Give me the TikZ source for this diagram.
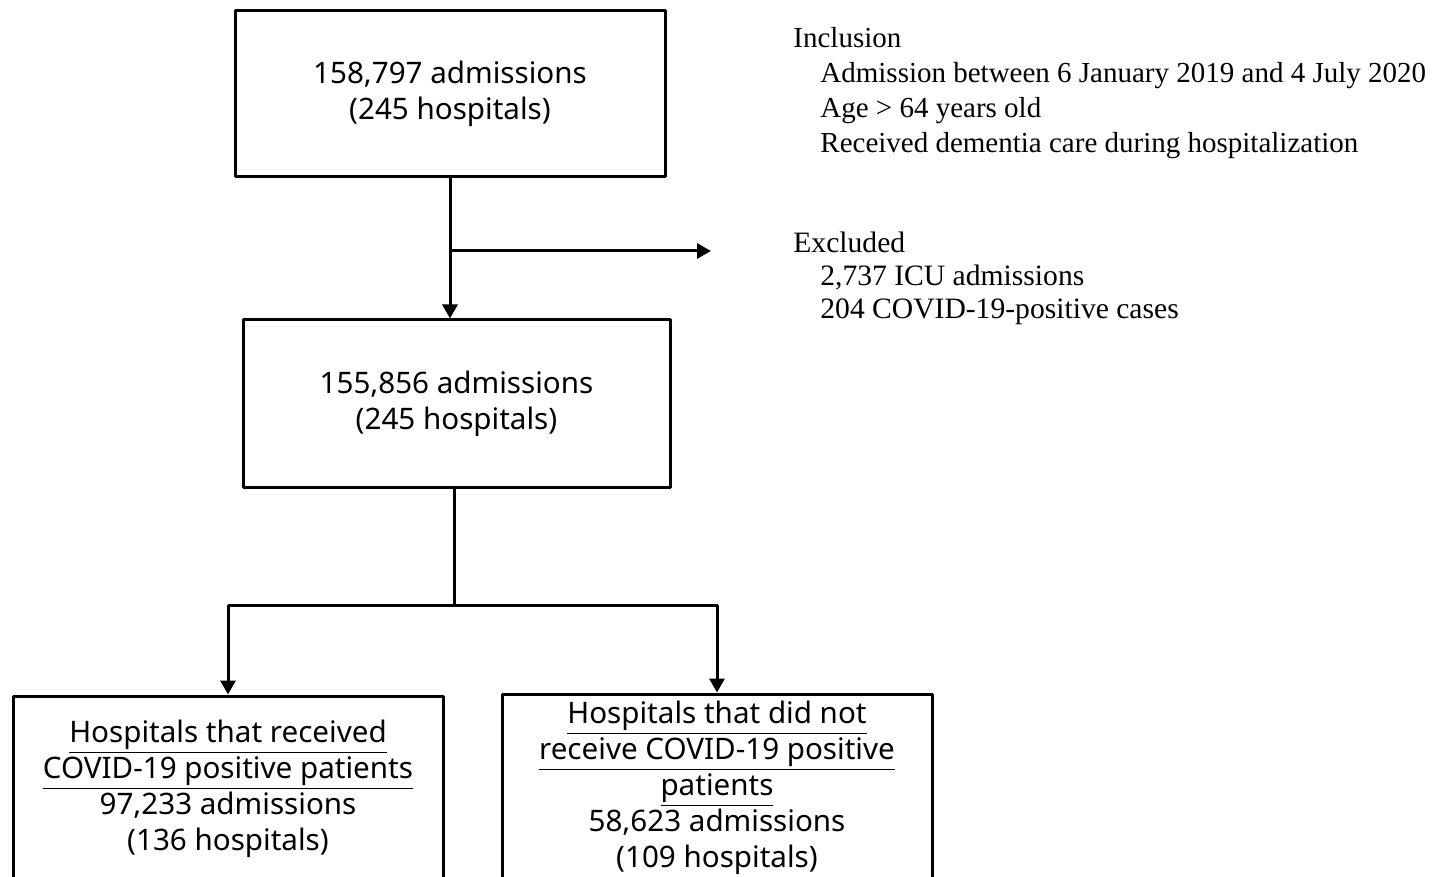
\documentclass[tikz,border=0pt]{standalone}
\usepackage{fontspec}
\setmainfont{Liberation Serif}
\newfontfamily\boxfont{Noto Sans}
\usetikzlibrary{arrows.meta}
\begin{document}
\begin{tikzpicture}[x=0.5pt,y=-0.5pt,line join=round,>={Triangle[length=7pt,width=7.5pt]}]
		\tikzset{box/.style={draw,line width=1.5pt,align=center,inner sep=0pt,font=\boxfont\fontsize{14.8}{18}\selectfont},
			side/.style={align=left,inner sep=0pt,anchor=north west,font=\fontsize{14.5}{17.5}\selectfont}}
		\useasboundingbox (0,0) rectangle (1436,877);
		\node[box,minimum width=215pt,minimum height=83pt] (all) at (450,94) {158,797 admissions\\(245 hospitals)};
		\node[box,minimum width=213.5pt,minimum height=83.5pt] (incl) at (456.5,403.5) {155,856 admissions\\(245 hospitals)};
		\node[box,minimum width=215pt,minimum height=93pt] (covid) at (228,789) {\underline{Hospitals that received}\\\underline{COVID-19 positive patients}\\97,233 admissions\\(136 hospitals)};
		\node[box,minimum width=215pt,minimum height=94pt] (nocovid) at (717,788) {\underline{Hospitals that did not}\\\underline{receive COVID-19 positive}\\\underline{patients}\\58,623 admissions\\(109 hospitals)};
		\node[side] (inclusion) at (793,27) {Inclusion\\\hspace*{13.5pt}Admission between 6 January 2019 and 4 July 2020\\\hspace*{13.5pt}Age > 64 years old\\\hspace*{13.5pt}Received dementia care during hospitalization};
		\node[side,font=\fontsize{14.8}{16.5}\selectfont] (excluded) at (793,232) {Excluded\\\hspace*{13.5pt}2,737 ICU admissions\\\hspace*{13.5pt}204 COVID-19-positive cases};
		\coordinate (exclend) at (711,251);
		\coordinate (split) at (454,605);
		\draw[line width=1.5pt,->] (all.south) -- (all.south |- incl.north);
		\draw[line width=1.5pt,->] (all.south |- exclend) -- (exclend);
		\draw[line width=1.5pt] (incl.south -| split) -- (split);
		\draw[line width=1.5pt,->] (split) -| (covid.north);
		\draw[line width=1.5pt,->] (split) -| (nocovid.north);
	\end{tikzpicture}
\end{document}
